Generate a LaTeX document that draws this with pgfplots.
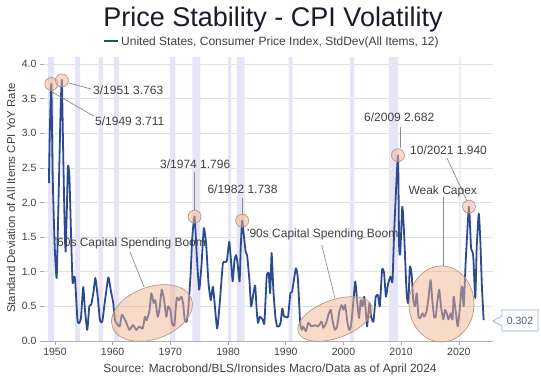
\documentclass[border=0pt]{standalone}
\usepackage{fontspec}
\setmainfont{Liberation Sans}
\usepackage{pgfplots}
\usepackage{pgfplotstable}
\pgfplotsset{compat=1.18}
\definecolor{lineblue}{RGB}{44,74,145}
\definecolor{band}{RGB}{229,229,245}
\definecolor{peach}{RGB}{241,181,145}
\definecolor{ellb}{RGB}{185,150,132}
\definecolor{txt}{RGB}{64,64,64}
\definecolor{titlec}{RGB}{26,26,40}
\definecolor{leader}{RGB}{140,140,140}
\definecolor{boxb}{RGB}{160,172,205}
\definecolor{boxt}{RGB}{70,90,140}

\pgfplotstableread{
year val
1948.95 2.28
1949.1 3.0
1949.37 3.711
1949.6 2.4
1949.9 1.5
1950.1 1.1
1950.3 0.91
1950.5 1.6
1950.8 2.7
1951.0 3.4
1951.2 3.763
1951.45 2.6
1951.7 1.6
1951.85 1.29
1952.0 1.7
1952.25 2.52
1952.5 2.38
1952.8 1.5
1953.05 0.84
1953.3 0.93
1953.5 0.88
1953.9 0.30
1954.2 0.26
1954.5 0.33
1954.9 0.78
1955.2 0.45
1955.6 0.16
1955.95 0.50
1956.3 0.53
1956.7 0.72
1957.0 0.91
1957.35 0.69
1957.8 0.30
1958.2 0.28
1958.7 0.60
1959.25 0.92
1959.7 0.72
1960.1 0.55
1960.4 0.30
1961.2 0.21
1961.6 0.38
1962.3 0.28
1962.9 0.16
1963.5 0.23
1964.1 0.16
1964.6 0.21
1965.2 0.18
1965.6 0.35
1965.9 0.30
1966.4 0.45
1966.7 0.69
1967.1 0.55
1967.4 0.59
1967.8 0.35
1968.1 0.45
1968.5 0.74
1968.9 0.60
1969.3 0.35
1969.6 0.50
1970.0 0.45
1970.3 0.26
1970.7 0.23
1971.1 0.62
1971.5 0.59
1971.9 0.64
1972.2 0.55
1972.5 0.30
1972.8 0.28
1973.1 0.45
1973.5 0.95
1973.8 1.5
1974.2 1.796
1974.6 1.2
1975.0 0.74
1975.4 1.1
1975.8 1.63
1976.2 1.40
1976.6 0.85
1977.0 0.59
1977.4 0.78
1978.1 0.18
1978.6 0.59
1979.1 1.12
1979.5 1.14
1979.8 1.16
1980.2 1.43
1980.5 1.17
1980.8 0.86
1981.1 1.16
1981.4 1.24
1981.65 1.12
1982.0 0.86
1982.2 1.36
1982.45 1.738
1982.75 1.51
1983.05 1.29
1983.3 1.24
1983.7 0.88
1984.0 0.50
1984.4 0.69
1984.7 0.80
1985.0 0.40
1985.2 0.26
1985.5 0.35
1986.0 0.31
1986.3 0.26
1986.7 0.93
1987.05 0.98
1987.3 0.69
1987.55 1.27
1987.85 0.74
1988.2 0.35
1988.5 0.21
1988.8 0.21
1989.1 0.26
1989.4 0.47
1989.7 0.35
1990.0 0.35
1990.4 0.35
1990.8 0.69
1991.1 0.71
1991.75 1.05
1992.1 0.90
1992.5 0.26
1992.8 0.16
1993.0 0.21
1993.5 0.14
1993.9 0.26
1994.5 0.21
1995.1 0.23
1995.6 0.21
1996.2 0.28
1996.5 0.19
1997.0 0.26
1997.4 0.38
1997.8 0.45
1998.1 0.30
1998.5 0.16
1998.9 0.21
1999.3 0.43
1999.7 0.52
2000.0 0.45
2000.3 0.52
2000.7 0.26
2001.0 0.16
2001.3 0.21
2001.7 0.55
2002.05 0.86
2002.4 0.55
2002.7 0.33
2003.0 0.59
2003.3 0.50
2003.6 0.64
2003.9 0.40
2004.1 0.21
2004.5 0.55
2004.8 0.35
2005.2 0.28
2005.6 0.64
2006.0 0.66
2006.3 0.50
2006.7 1.03
2007.05 0.98
2007.35 0.64
2007.75 0.83
2008.15 0.93
2008.5 0.86
2008.8 1.6
2009.45 2.682
2009.65 1.36
2009.85 1.27
2010.2 1.94
2010.5 1.57
2010.95 0.69
2011.25 0.55
2011.5 1.07
2011.8 0.98
2012.1 0.59
2012.4 0.50
2012.7 0.69
2013.0 0.35
2013.3 0.33
2013.7 0.40
2014.0 0.35
2014.4 0.43
2014.7 0.59
2015.1 0.88
2015.4 0.59
2015.7 0.35
2016.0 0.35
2016.3 0.59
2016.6 0.74
2016.9 0.50
2017.3 0.31
2017.6 0.45
2017.9 0.40
2018.2 0.31
2018.6 0.40
2018.9 0.31
2019.1 0.64
2019.5 0.40
2019.8 0.21
2020.2 0.50
2020.45 0.76
2020.6 0.78
2020.85 0.50
2021.2 1.17
2021.75 1.940
2022.1 1.36
2022.3 1.30
2022.5 1.22
2022.85 0.62
2023.1 1.36
2023.45 1.84
2023.7 1.50
2024.0 0.78
2024.3 0.302
}\cpi

\pgfplotstableread{
year val
1949.37 3.711
1951.2 3.763
1974.2 1.796
1982.45 1.738
2009.45 2.682
2021.75 1.940
}\peaks

\newcommand{\band}[2]{\addplot[fill=band, draw=none, forget plot] coordinates {(#1,0) (#1,4.101) (#2,4.101) (#2,0)} \closedcycle;}

\begin{document}
\begin{tikzpicture}
\begin{axis}[
  at={(44pt,44pt)}, anchor=south west,
  scale only axis, width=449pt, height=284pt,
  xmin=1948.1, xmax=2025.92, ymin=0, ymax=4.101,
  axis x line*=bottom, axis y line*=left,
  x axis line style={draw=gray!60, line width=0.6pt, -},
  y axis line style={draw=none},
  xtick={1950,1960,...,2020}, ytick={0,0.5,...,4.0},
  ymajorgrids, grid style={draw=black!12, line width=0.6pt},
  major tick length=4pt, tick style={draw=gray!70, line width=0.6pt},
  tick align=outside,
  /pgf/number format/assume math mode=true,
  xticklabel style={/pgf/number format/1000 sep={}, font=\fontsize{10.5}{12}\selectfont, text=txt},
  yticklabel style={/pgf/number format/.cd, fixed, fixed zerofill, precision=1, /tikz/.cd, font=\fontsize{10.5}{12}\selectfont, text=txt},
  clip=false,
]
\band{1948.83}{1949.79}
\band{1953.5}{1954.37}
\band{1957.58}{1958.29}
\band{1960.25}{1961.12}
\band{1969.92}{1970.87}
\band{1973.83}{1975.21}
\band{1980.0}{1980.54}
\band{1981.5}{1982.87}
\band{1990.5}{1991.21}
\band{2001.17}{2001.87}
\band{2007.92}{2009.46}
\band{2020.08}{2020.29}
\addplot[lineblue, line width=1.8pt, line join=round, smooth, tension=0.3] table[x=year,y=val] {\cpi};
\addplot[only marks, mark=*, mark size=6.5pt, mark options={fill=peach, fill opacity=0.5, draw=ellb, line width=0.7pt}] table[x=year,y=val] {\peaks};
\end{axis}
\begin{scope}[x=1pt,y=1pt]
% ellipses
\draw[draw=ellb, line width=0.7pt, fill=peach, fill opacity=0.5, rotate around={20:(152,72)}] (152,72) ellipse [x radius=42, y radius=26];
\draw[draw=ellb, line width=0.7pt, fill=peach, fill opacity=0.5, rotate around={20:(335,66)}] (335,66) ellipse [x radius=39, y radius=19];
\draw[draw=ellb, line width=0.7pt, fill=peach, fill opacity=0.5] (441.5,81) ellipse [x radius=32.5, y radius=38];
% leaders
\begin{scope}[draw=leader, line width=0.7pt]
\draw (69,385-83) -- (91,385-89);
\draw (52,385-92) -- (93.6,385-116);
\draw (194.6,385-172) -- (194.6,385-210);
\draw (242,385-198) -- (242,385-214);
\draw (400,385-127) -- (400,385-148);
\draw (447,385-158) -- (467,385-201);
\draw (130,385-252) -- (144,385-287);
\draw (321.7,385-245) -- (335,385-298.3);
\draw (443,385-197) -- (443,385-266);
\end{scope}
% annotation texts
\begin{scope}[every node/.style={inner sep=0pt, text=txt, font=\fontsize{12}{14}\selectfont, anchor=base west}]
\node at (93,385-94.3) {3/1951 3.763};
\node at (95,385-125.5) {5/1949 3.711};
\node at (364,385-122) {6/2009 2.682};
\node at (160,385-168.3) {3/1974 1.796};
\node at (207.3,385-193.3) {6/1982 1.738};
\node at (410,385-155) {10/2021 1.940};
\node at (54.3,385-246.7) {'60s Capital Spending Boom};
\node at (246.7,385-237.3) {'90s Capital Spending Boom};
\node at (408.3,385-195) {Weak Capex};
\end{scope}
% value box
\draw[draw=boxb, fill=white, line width=0.7pt] (493,385-321) -- (502,385-316) -- (502,385-310) -- (538,385-310) -- (538,385-331) -- (502,385-331) -- (502,385-326) -- cycle;
\node[text=boxt, font=\fontsize{10.5}{12}\selectfont, inner sep=0pt] at (520,385-321) {0.302};
% title and legend
\node[anchor=base, text=titlec, font=\fontsize{27}{31}\selectfont, inner sep=0pt] at (273,385-27) {Price Stability - CPI Volatility};
\draw[lineblue, line width=1.8pt] (104,385-41) -- (118,385-41);
\node[anchor=base west, text=txt, font=\fontsize{12}{14}\selectfont, inner sep=0pt] at (121,385-45.4) {United States, Consumer Price Index, StdDev(All Items, 12)};
% y label
\node[rotate=90, text=txt, font=\fontsize{11.4}{13}\selectfont, inner sep=0pt] at (11,385-198) {Standard Deviation of All Items CPI YoY Rate};
% source
\node[anchor=base, text=txt, font=\fontsize{11.9}{14}\selectfont, inner sep=0pt] at (270,385-373) {Source: Macrobond/BLS/Ironsides Macro/Data as of April 2024};
\pgfresetboundingbox
\path[use as bounding box] (0,0) rectangle (541,385);
\end{scope}
\end{tikzpicture}
\end{document}
